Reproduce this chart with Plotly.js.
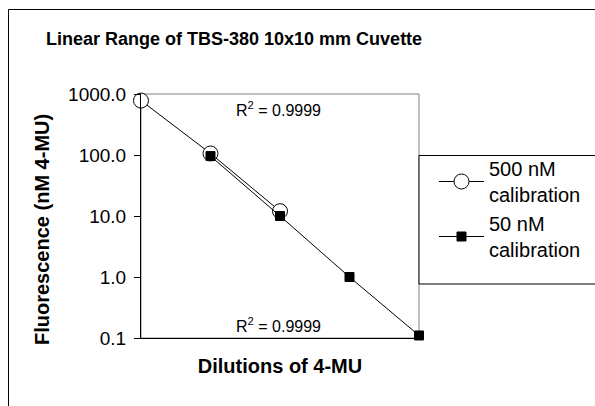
<!DOCTYPE html>
<html>
<head>
<meta charset="utf-8">
<script src="https://cdn.plot.ly/plotly-3.0.1.min.js"></script>
<style>
html,body{margin:0;padding:0;background:#fff;}
#chart{width:595px;height:406px;}
</style>
</head>
<body>
<div id="chart"></div>
<script>
// Data
const dilutionIndex500 = [0, 1, 2];
const fluor500 = [780, 106, 12];
const dilutionIndex50 = [1, 2, 3, 4];
const fluor50 = [96, 10, 1.0, 0.11];
const seriesNames = ["500 nM<br>calibration", "50 nM<br>calibration"];
const yTickVals = [0.1, 1, 10, 100, 1000];
const yTickText = ["0.1", "1.0", "10.0", "100.0", "1000.0"];
const r2Labels = ["R<sup>2</sup> = 0.9999", "R<sup>2</sup> = 0.9999"];
const chartTitle = "<b>Linear Range of TBS-380 10x10 mm Cuvette</b>";
const xTitle = "<b>Dilutions of 4-MU</b>";
const yTitle = "<b>Fluorescence (nM 4-MU)</b>";

const W = 595, H = 406;
const L = 141, R = 419, T = 94, B = 338;
const px = x => (x - L) / (R - L);
const py = y => (B - y) / (B - T);
const FONT = "Liberation Sans, Arial, sans-serif";

const traces = [
  {
    x: dilutionIndex500, y: fluor500, name: seriesNames[0],
    type: "scatter", mode: "lines+markers", cliponaxis: false,
    line: {color: "#000", width: 1},
    marker: {symbol: "circle", size: 15, color: "#fff", line: {color: "#000", width: 1}}
  },
  {
    x: dilutionIndex50, y: fluor50, name: seriesNames[1],
    type: "scatter", mode: "lines+markers", cliponaxis: false,
    line: {color: "#000", width: 1},
    marker: {symbol: "square", size: 9, color: "#000", line: {color: "#000", width: 1}}
  }
];

const layout = {
  width: W, height: H,
  margin: {l: L, r: W - R, t: T, b: H - B, pad: 0, autoexpand: false},
  paper_bgcolor: "#fff", plot_bgcolor: "#fff",
  font: {family: FONT, color: "#000", size: 19},
  showlegend: true,
  title: {text: chartTitle, font: {size: 18, family: FONT, color: "#000"},
          x: 46 / W, xanchor: "left", xref: "container", y: 1 - 39 / H, yref: "container", yanchor: "middle"},
  xaxis: {
    range: [0, 4], showticklabels: false, ticks: "", showgrid: false, zeroline: false,
    showline: true, linecolor: "#000", linewidth: 1,
    title: {text: xTitle, font: {size: 20, family: FONT, color: "#000"}, standoff: 20}
  },
  yaxis: {
    type: "log", range: [-1, 3], tickvals: yTickVals, ticktext: yTickText,
    ticks: "outside", ticklen: 6, tickcolor: "#000", tickwidth: 1, ticklabelstandoff: 4,
    showgrid: false, zeroline: false, showline: true, linecolor: "#000", linewidth: 1,
    tickfont: {size: 19, family: FONT, color: "#000"},
    title: {text: ""}
  },
  legend: {
    xref: "container", yref: "container",
    x: 434 / W, xanchor: "left", y: 1 - 149 / H, yanchor: "top",
    bgcolor: "rgba(0,0,0,0)", borderwidth: 0,
    font: {size: 20, family: FONT, color: "#000"},
    itemwidth: 45, tracegroupgap: 0
  },
  shapes: [
    {type: "rect", xref: "paper", yref: "paper", x0: px(8.5), x1: px(620), y0: py(9.5), y1: py(430),
     line: {color: "#000", width: 1}, layer: "below"},
    {type: "rect", xref: "paper", yref: "paper", x0: 0, x1: 1, y0: 0, y1: 1,
     line: {color: "#808080", width: 1}, layer: "below"},
    {type: "rect", xref: "paper", yref: "paper", x0: 1, x1: px(620), y0: py(155.5), y1: py(284),
     line: {color: "#000", width: 1}, fillcolor: "#fff", layer: "below"}
  ],
  annotations: [
    {text: yTitle, xref: "paper", yref: "paper", x: px(42), y: py(230), showarrow: false, textangle: -90,
     xanchor: "center", yanchor: "middle", font: {size: 20, family: FONT, color: "#000"}},
    {text: r2Labels[0], xref: "paper", yref: "paper", x: px(278), y: py(109), showarrow: false,
     xanchor: "center", yanchor: "middle", font: {size: 16, family: FONT, color: "#000"}},
    {text: r2Labels[1], xref: "paper", yref: "paper", x: px(278), y: py(325), showarrow: false,
     xanchor: "center", yanchor: "middle", font: {size: 16, family: FONT, color: "#000"}}
  ]
};

Plotly.newPlot("chart", traces, layout, {staticPlot: true, displayModeBar: false});
</script>
</body>
</html>
